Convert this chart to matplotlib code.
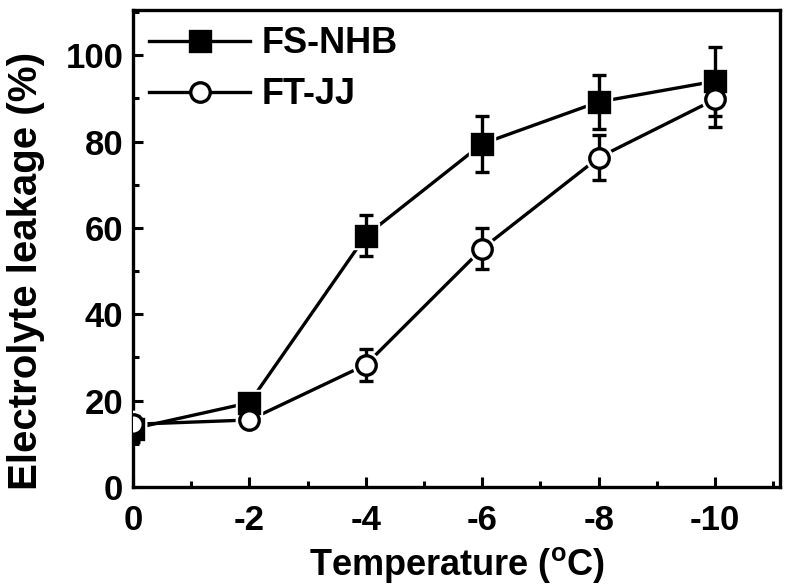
from matplotlib import pyplot as plt
from matplotlib.ticker import MultipleLocator
import numpy as np

# Data
temperature = [0, -2, -4, -6, -8, -10]
fs_nhb = [13.5, 19.5, 58.2, 79.5, 89.2, 94.0]
fs_nhb_err = [3.0, 0.0, 4.8, 6.5, 6.3, 8.0]
ft_jj = [14.5, 15.5, 28.3, 55.2, 76.3, 89.8]
ft_jj_err = [1.5, 0.0, 3.7, 4.7, 5.2, 6.4]
tick_labels = ['0', '-2', '-4', '-6', '-8', '-10']

plt.rcParams['font.family'] = ['Liberation Sans', 'DejaVu Sans']
plt.rcParams['font.weight'] = 'bold'
plt.rcParams['mathtext.fontset'] = 'custom'
plt.rcParams['mathtext.bf'] = 'Liberation Sans:bold'

fig = plt.figure(figsize=(7.99, 5.88), dpi=100)
ax = fig.add_axes([0.1665, 0.172, 0.81, 0.811])

def draw_series(y, err, marker, face, label):
    ax.plot(temperature, y, color='black', lw=2.4, zorder=2)
    # white halo gives the small gap between line and marker
    ax.plot(temperature, y, ls='none', marker=marker, ms=19, mfc='white', mec='white', zorder=3)
    ax.errorbar(temperature, y, yerr=err, fmt='none', ecolor='black', elinewidth=2.4,
                capsize=5, capthick=2.4, zorder=4)
    ax.plot(temperature, y, ls='none', marker=marker, ms=14, mfc=face, mec='black', mew=2.4, zorder=5)
    # legend proxy
    ax.plot([], [], color='black', lw=2.4, marker=marker, ms=14, mfc=face, mec='black', mew=2.4, label=label)

draw_series(fs_nhb, fs_nhb_err, 's', 'black', 'FS-NHB')
draw_series(ft_jj, ft_jj_err, 'o', 'white', 'FT-JJ')

ax.set_xlim(0, -11.12)
ax.set_ylim(0, 110.5)
ax.xaxis.set_minor_locator(MultipleLocator(1))
ax.yaxis.set_minor_locator(MultipleLocator(10))
ax.set_xticks(temperature)
ax.set_xticklabels(tick_labels)
ax.set_yticks([0, 20, 40, 60, 80, 100])
ax.tick_params(which='major', direction='in', length=7, width=2.2, labelsize=25)
ax.tick_params(axis='x', which='major', pad=12)
ax.tick_params(axis='y', which='major', pad=7)
ax.tick_params(which='minor', direction='in', length=4, width=2.2)
for lbl in ax.get_xticklabels() + ax.get_yticklabels():
    lbl.set_fontweight('bold')
for s in ax.spines.values():
    s.set_linewidth(2.4)

ax.set_xlabel('Temperature ($^{\\mathbf{o}}$C)', fontsize=26, fontweight='bold', labelpad=6)
ax.set_ylabel('Electrolyte leakage (%)', fontsize=29, fontweight='bold')
ax.yaxis.set_label_coords(-0.166, 0.452)
ax.yaxis.label.set_va('center')

leg = ax.legend(loc='upper left', frameon=False, fontsize=26, handlelength=2.8,
                borderaxespad=0.2, borderpad=0.25, labelspacing=0.45, handletextpad=0.3)
for t in leg.get_texts():
    t.set_fontweight('bold')

fig.savefig('out.png', dpi=100)
